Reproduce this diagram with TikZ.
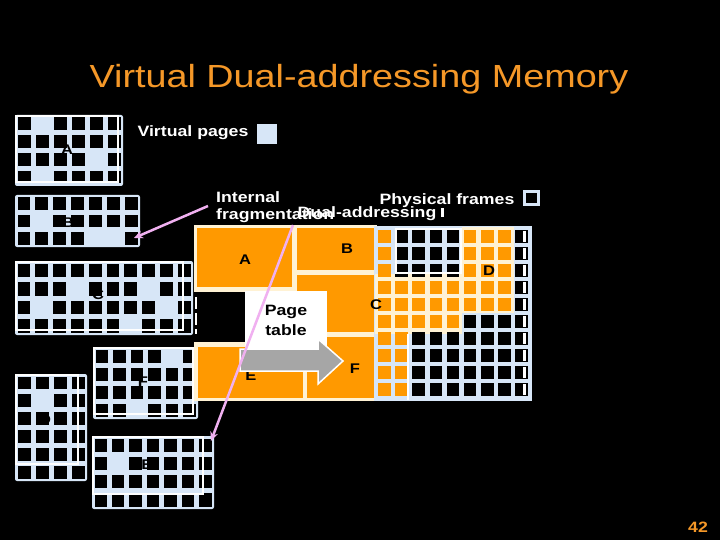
\documentclass[tikz,border=0pt]{standalone}
\usepackage{fontspec}
\setmainfont{Liberation Sans}[FakeStretch=1.18]
\usepackage{tikz}
\usetikzlibrary{arrows.meta}

\definecolor{pagebg}{RGB}{215,230,247}
\definecolor{phys}{RGB}{255,153,0}
\definecolor{cream}{RGB}{255,242,212}
\definecolor{titleor}{RGB}{245,152,40}
\definecolor{fragpink}{RGB}{240,176,240}
\definecolor{arrgray}{RGB}{166,166,166}

% virtual page table: x0,y0,x1,y1,cols,rows,free cells
\newcommand{\vgrid}[7]{%
  \pgfmathsetmacro\vgdx{(#3-#1)/#5}
  \pgfmathsetmacro\vgdy{(#4-#2)/#6}
  \fill[pagebg,rounded corners=2pt] (#1,#2) rectangle (#3,#4);
  \foreach \i in {1,...,#5} \foreach \j in {1,...,#6}
    {\fill[black] ({#1+(\i-1)*\vgdx+2.5},{#2+(\j-1)*\vgdy+2.5}) rectangle ++({\vgdx-5},{\vgdy-5});}
  \foreach \i/\j in {#7}
    {\fill[pagebg] ({#1+\i*\vgdx+2},{#2+\j*\vgdy+2}) rectangle ++({\vgdx-4},{\vgdy-4});}
}
% physical frame cell
\newcommand{\pcell}[3]{\fill[#3] ({376+#1*17.1+2.2},{228+#2*17+2.2}) rectangle ++(12.7,12.6);}

\begin{document}
\begin{tikzpicture}[x=1pt,y=-1pt,
  hdr/.style={text=titleor,font=\fontsize{32}{36}\selectfont,inner sep=0},
  wtxt/.style={text=white,font=\bfseries\fontsize{15}{18}\selectfont,inner sep=0},
  lbl/.style={text=black,font=\bfseries\fontsize{14}{16}\selectfont,inner sep=0},
  frame/.style={draw=white,line width=1.5},
  pinkarrow/.style={fragpink,line width=2.5,-{Stealth[length=9pt,width=8pt]}}]
 \useasboundingbox (0,0) rectangle (720,540);
 \fill[black] (0,0) rectangle (720,540);

 \node[hdr,anchor=base] (title) at (359,88) {Virtual Dual-addressing Memory};

 % virtual address spaces
 \vgrid{15}{115}{123}{186}{6}{4}{1/0,1/3,4/2}
 \draw[frame] (16,116) rectangle (118,182);
 \vgrid{15}{195}{140}{247}{7}{3}{1/1,4/2,5/2}
 \vgrid{15}{261}{193}{335}{10}{4}{3/1,7/1,1/2,8/2,6/3}
 \draw[frame] (16,262) rectangle (183,330);
 \vgrid{93}{347}{198}{419}{6}{4}{4/0,2/3}
 \draw[frame] (94,348) rectangle (193,414);
 \vgrid{15}{374}{87}{481}{4}{6}{1/1}
 \draw[frame] (16,375) rectangle (78,464);
 \vgrid{92}{436}{214}{509}{7}{4}{1/1}
 \draw[frame] (93,437) rectangle (203,494);
 \node[lbl] (vA) at (67,150) {A};
 \node[lbl] (vB) at (68,223) {B};
 \node[lbl] (vC) at (98,295) {C};
 \node[lbl] (vF) at (143,382) {F};
 \node[lbl] (vD) at (45,420) {D};
 \node[lbl] (vE) at (147,465) {E};

 \node[wtxt,anchor=base] (vpages) at (193,137) {Virtual pages};
 \fill[pagebg] (257,124) rectangle (277,144);

 % physical memory
 \fill[cream] (194,225) rectangle (377,401);
 \fill[phys] (197,228) rectangle (292,287);
 \fill[phys] (297,228) rectangle (375,270);
 \fill[phys] (297,275) rectangle (375,332);
 \fill[phys] (198,347) rectangle (303,398);
 \fill[phys] (307,337) rectangle (375,398);
 \fill[black] (194,292) rectangle (245,342);
 \draw[white,line width=2,dash pattern=on 12pt off 4pt] (196,297) -- (196,334);

 \fill[pagebg] (374,226) rectangle (532,401);
 \fill[cream] (375,274) rectangle (462,334);
 \fill[cream] (462,227) rectangle (514,313);
 \foreach \i in {0,...,8} \foreach \j in {0,...,9} {\pcell{\i}{\j}{black}}
 \foreach \j in {0,...,9} {\pcell{0}{\j}{phys}}
 \foreach \i in {1,...,4} \foreach \j in {3,4,5} {\pcell{\i}{\j}{phys}}
 \foreach \i in {5,6,7} \foreach \j in {0,...,4} {\pcell{\i}{\j}{phys}}
 \foreach \j in {6,...,9} {\pcell{1}{\j}{phys}}
 \foreach \j in {0,...,9}
   {\fill[white] ({376+8*17.1+10},{228+\j*17+3}) rectangle ++(3.5,11);}
 \draw[white,line width=1.5] (396,229) rectangle (461,273);
 \draw[white,line width=2] (408,334) -- (408,400);

 \node[lbl] (pA) at (245,260) {A};
 \node[lbl] (pB) at (347,249) {B};
 \node[lbl] (pC) at (376,305) {C};
 \node[lbl] (pD) at (489,271) {D};
 \node[lbl] (pE) at (251,376) {E};
 \node[lbl] (pF) at (355,369) {F};

 % page table
 \node[fill=white,minimum width=82pt,minimum height=58pt,inner sep=0,align=center,
   font=\bfseries\fontsize{15}{20}\selectfont] (ptab) at (286,320) {Page\\table};
 \filldraw[fill=arrgray,draw=white,line width=1.5] (240,349) -- (318,349) -- (318,339)
   -- (343,361) -- (318,384) -- (318,371) -- (240,371) -- cycle;

 \node[wtxt,anchor=base] (phframes) at (447,205) {Physical frames};
 \draw[pagebg,line width=3,fill=black] (524,192) rectangle (538,205);
 \node[wtxt,anchor=base] (dual) at (367,218) {Dual-addressing};
 \fill[white] (441,208) rectangle (444,217);

 \node[wtxt,anchor=base west] (frag1) at (216,203) {Internal};
 \node[wtxt,anchor=base west] (frag2) at (216,220) {fragmentation};
 \coordinate (fragS1) at (208,206);
 \coordinate (fragE1) at (134,238);
 \coordinate (fragS2) at (293,225);
 \coordinate (fragE2) at (211,441);
 \draw[pinkarrow] (fragS1) -- (fragE1);
 \draw[pinkarrow] (fragS2) -- (fragE2);

 \node[text=titleor,font=\bfseries\fontsize{15}{18}\selectfont,inner sep=0,anchor=base] (pgno) at (698,532) {42};
\end{tikzpicture}
\end{document}
